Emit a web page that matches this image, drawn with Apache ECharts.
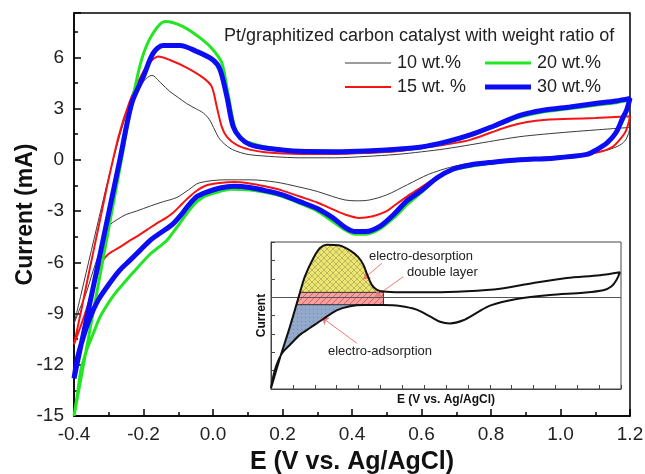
<!DOCTYPE html>
<html>
<head>
<meta charset="utf-8">
<script src="https://cdn.jsdelivr.net/npm/echarts@6/dist/echarts.min.js"></script>
<style>html,body{margin:0;padding:0;background:#fff}#c{width:645px;height:474px}</style>
</head>
<body>
<div id="c"></div>
<script>
// ---------- DATA (E in V vs. Ag/AgCl, current in mA) ----------
const xTicksMajor = [-0.4, -0.2, 0.0, 0.2, 0.4, 0.6, 0.8, 1.0, 1.2];
const yTicksMajor = [-15, -12, -9, -6, -3, 0, 3, 6];
const seriesNames = ['10 wt.%', '15 wt. %', '20 wt.%', '30 wt.%'];
const legendTitle = 'Pt/graphitized carbon catalyst with weight ratio of';

// 10 wt.%
const w10Forward = [[-0.4,-9.6],[-0.38,-7.9],[-0.35,-5.3],[-0.32,-2.7],[-0.3,-1.0],[-0.27,1.3],[-0.245,2.9],[-0.22,3.9],[-0.2,4.6],[-0.176,4.95],[-0.15,4.5],[-0.124,4.0],[-0.1,3.65],[-0.076,3.3],[-0.05,3.0],[-0.028,2.75],[-0.01,2.35],[0.005,1.75],[0.02,1.2],[0.049,0.68],[0.08,0.42],[0.106,0.3],[0.18,0.18],[0.25,0.12],[0.35,0.12],[0.44,0.2],[0.53,0.32],[0.6,0.47],[0.67,0.65],[0.74,0.88],[0.81,1.12],[0.88,1.35],[0.95,1.5],[1.03,1.64],[1.1,1.75],[1.2,1.9]];
const w10Reverse = [[1.2,1.9],[1.195,1.5],[1.185,1.1],[1.165,0.8],[1.13,0.55],[1.08,0.38],[0.98,0.2],[0.88,0.05],[0.8,-0.1],[0.74,-0.2],[0.68,-0.45],[0.62,-0.85],[0.56,-1.45],[0.5,-2.05],[0.45,-2.35],[0.414,-2.4],[0.38,-2.35],[0.345,-2.15],[0.3,-1.85],[0.25,-1.6],[0.18,-1.3],[0.106,-1.17],[0.035,-1.17],[-0.04,-1.35],[-0.07,-1.75],[-0.104,-2.2],[-0.143,-2.45],[-0.18,-2.7],[-0.22,-3.0],[-0.25,-3.2],[-0.276,-3.5],[-0.3,-3.9],[-0.325,-5.3],[-0.345,-6.5],[-0.365,-7.8],[-0.385,-8.8],[-0.4,-9.6]];
// 15 wt. %
const w15Forward = [[-0.4,-10.8],[-0.38,-8.9],[-0.36,-6.9],[-0.33,-4.0],[-0.3,-1.1],[-0.27,1.5],[-0.24,3.4],[-0.21,4.8],[-0.19,5.5],[-0.175,5.85],[-0.158,6.05],[-0.124,5.85],[-0.076,5.4],[-0.028,4.8],[-0.004,4.3],[0.011,3.1],[0.025,1.95],[0.04,1.35],[0.068,0.88],[0.106,0.6],[0.15,0.45],[0.25,0.35],[0.35,0.35],[0.44,0.4],[0.53,0.5],[0.6,0.7],[0.67,0.9],[0.74,1.17],[0.8,1.6],[0.85,1.95],[0.9,2.2],[0.96,2.35],[1.03,2.4],[1.1,2.45],[1.2,2.55]];
const w15Reverse = [[1.2,2.55],[1.195,2.1],[1.186,1.6],[1.165,1.05],[1.15,0.76],[1.12,0.5],[1.076,0.35],[0.98,0.12],[0.883,0.0],[0.8,-0.15],[0.74,-0.3],[0.69,-0.55],[0.645,-1.0],[0.6,-1.6],[0.558,-2.15],[0.52,-2.7],[0.5,-3.0],[0.46,-3.3],[0.42,-3.4],[0.38,-3.2],[0.345,-2.9],[0.3,-2.5],[0.25,-2.15],[0.2,-1.8],[0.15,-1.55],[0.106,-1.38],[0.06,-1.3],[0.02,-1.35],[-0.02,-1.5],[-0.05,-1.85],[-0.075,-2.3],[-0.095,-2.7],[-0.115,-3.1],[-0.135,-3.4],[-0.161,-3.7],[-0.19,-4.1],[-0.22,-4.5],[-0.245,-4.8],[-0.267,-5.1],[-0.3,-5.5],[-0.32,-6.0],[-0.34,-7.2],[-0.36,-8.5],[-0.38,-9.7],[-0.4,-10.8]];
// 20 wt.%
const w20Forward = [[-0.4,-15],[-0.38,-12.8],[-0.35,-9.5],[-0.3,-4.0],[-0.268,-0.5],[-0.234,3.3],[-0.205,5.9],[-0.176,7.3],[-0.138,8.1],[-0.086,7.8],[-0.028,7.0],[0.0,6.45],[0.025,5.7],[0.043,3.9],[0.063,1.9],[0.087,1.15],[0.106,1.0],[0.15,0.75],[0.25,0.5],[0.35,0.45],[0.44,0.48],[0.53,0.58],[0.6,0.72],[0.67,1.0],[0.74,1.4],[0.81,1.95],[0.883,2.5],[0.95,2.8],[1.027,3.0],[1.1,3.2],[1.16,3.35],[1.2,3.5]];
const w20Reverse = [[1.2,3.5],[1.19,2.8],[1.175,2.1],[1.15,1.3],[1.13,0.9],[1.1,0.55],[1.07,0.3],[1.0,0.12],[0.92,0.02],[0.85,-0.08],[0.75,-0.35],[0.69,-0.6],[0.64,-1.15],[0.6,-1.9],[0.56,-2.6],[0.52,-3.4],[0.48,-4.05],[0.44,-4.35],[0.41,-4.35],[0.38,-4.1],[0.34,-3.55],[0.3,-3.0],[0.25,-2.55],[0.2,-2.15],[0.15,-1.9],[0.1,-1.75],[0.05,-1.72],[0.02,-1.85],[-0.02,-2.1],[-0.046,-2.45],[-0.07,-3.0],[-0.095,-3.7],[-0.115,-4.25],[-0.132,-4.7],[-0.155,-5.1],[-0.18,-5.5],[-0.23,-6.6],[-0.26,-7.3],[-0.288,-8.0],[-0.325,-9.2],[-0.345,-10.2],[-0.363,-11.1],[-0.38,-12.3],[-0.39,-13.7],[-0.4,-15]];
// 30 wt.%
const w30Forward = [[-0.4,-12.8],[-0.37,-9.9],[-0.34,-7.0],[-0.3,-3.1],[-0.268,0.0],[-0.234,3.3],[-0.2,4.9],[-0.172,6.25],[-0.144,6.7],[-0.095,6.7],[-0.047,6.35],[0.0,5.85],[0.02,5.3],[0.04,3.7],[0.058,1.95],[0.078,1.3],[0.106,0.9],[0.15,0.7],[0.25,0.5],[0.35,0.48],[0.44,0.52],[0.53,0.62],[0.6,0.75],[0.67,1.05],[0.74,1.46],[0.81,2.0],[0.883,2.6],[0.95,2.9],[1.027,3.1],[1.1,3.3],[1.16,3.45],[1.2,3.6]];
const w30Reverse = [[1.2,3.6],[1.19,2.9],[1.18,2.5],[1.16,1.6],[1.134,1.0],[1.1,0.55],[1.076,0.32],[0.98,0.1],[0.883,0.0],[0.8,-0.15],[0.74,-0.3],[0.69,-0.55],[0.645,-1.05],[0.6,-1.8],[0.558,-2.4],[0.52,-3.2],[0.48,-3.9],[0.44,-4.2],[0.41,-4.2],[0.38,-3.95],[0.345,-3.4],[0.3,-2.85],[0.25,-2.45],[0.2,-2.05],[0.15,-1.8],[0.106,-1.62],[0.06,-1.55],[0.02,-1.65],[-0.02,-1.9],[-0.046,-2.15],[-0.07,-2.65],[-0.095,-3.3],[-0.115,-3.75],[-0.135,-4.05],[-0.16,-4.4],[-0.18,-4.7],[-0.21,-5.3],[-0.24,-5.9],[-0.27,-6.5],[-0.3,-7.3],[-0.33,-8.2],[-0.355,-9.3],[-0.375,-10.5],[-0.39,-11.6],[-0.4,-12.8]];

// Inset (schematic, arbitrary current units)
const insetForward = [[-0.4,-4.96],[-0.359,-3.31],[-0.313,-1.59],[-0.275,-0.05],[-0.245,1.13],[-0.206,2.13],[-0.176,2.67],[-0.146,2.85],[-0.092,2.82],[-0.039,2.55],[-0.001,2.18],[0.022,1.77],[0.04,1.22],[0.06,0.68],[0.083,0.41],[0.114,0.3],[0.19,0.26],[0.342,0.26],[0.494,0.32],[0.647,0.46],[0.799,0.77],[0.952,1.04],[1.104,1.19],[1.195,1.35]];
const insetReverse = [[1.195,1.35],[1.18,0.95],[1.157,0.59],[1.119,0.37],[1.028,0.24],[0.875,0.12],[0.723,-0.1],[0.601,-0.46],[0.54,-0.86],[0.479,-1.26],[0.418,-1.43],[0.373,-1.34],[0.327,-1.05],[0.266,-0.68],[0.19,-0.48],[0.114,-0.43],[0.022,-0.43],[-0.039,-0.5],[-0.1,-0.72],[-0.161,-1.19],[-0.222,-1.68],[-0.267,-2.04],[-0.313,-2.59],[-0.351,-3.08],[-0.382,-3.95],[-0.4,-4.96]];
const desorptionRegion = [[-0.267,0.26],[-0.245,1.13],[-0.206,2.13],[-0.176,2.67],[-0.146,2.85],[-0.092,2.82],[-0.039,2.55],[-0.001,2.18],[0.022,1.77],[0.04,1.22],[0.06,0.68],[0.083,0.41],[0.1,0.26]];
const doubleLayerRegion = [[-0.267,0.26],[0.114,0.26],[0.114,-0.41],[-0.284,-0.41],[-0.275,-0.05]];
const adsorptionRegion = [[-0.284,-0.41],[0.05,-0.41],[0.022,-0.43],[-0.039,-0.5],[-0.1,-0.72],[-0.161,-1.19],[-0.222,-1.68],[-0.267,-2.04],[-0.313,-2.59],[-0.351,-3.08],[-0.382,-3.95],[-0.4,-4.96],[-0.359,-3.31],[-0.313,-1.59]];
const insetArrows = [[[0.106,1.84],[0.022,0.97]], [[0.205,1.11],[0.075,0.02]], [[-0.008,-2.51],[-0.168,-1.1]]];
const insetLabels = ['electro-desorption', 'double layer', 'electro-adsorption'];

// ---------- STYLE ----------
const FONT = 'Liberation Sans, Arial, Helvetica, sans-serif';
const colors = ['#3a3a3a', '#f51414', '#22e622', '#0c0cf5'];
const widths = [1, 2, 3, 5];

function makePattern(kind) {
  const c = document.createElement('canvas');
  const s = kind === 'dots' ? 4 : 6;
  c.width = s; c.height = s;
  const g = c.getContext('2d');
  if (kind === 'cross') {
    g.fillStyle = '#ece66e'; g.fillRect(0,0,s,s);
    g.strokeStyle = '#a8a25a'; g.lineWidth = 0.7;
    g.beginPath(); g.moveTo(0,0); g.lineTo(s,s); g.moveTo(s,0); g.lineTo(0,s); g.stroke();
  } else if (kind === 'hatch') {
    g.fillStyle = '#f7a0a0'; g.fillRect(0,0,s,s);
    g.strokeStyle = '#e05a5a'; g.lineWidth = 1;
    g.beginPath(); g.moveTo(0,s); g.lineTo(s,0); g.moveTo(-1,1); g.lineTo(1,-1); g.moveTo(s-1,s+1); g.lineTo(s+1,s-1); g.stroke();
  } else {
    g.fillStyle = '#93a9cb'; g.fillRect(0,0,s,s);
    g.fillStyle = '#7088ad'; g.fillRect(1,1,1,1);
  }
  return { image: c, repeat: 'repeat' };
}

function loop(f, r) { return f.concat(r.slice(1)); }
const mainData = [loop(w10Forward, w10Reverse), loop(w15Forward, w15Reverse), loop(w20Forward, w20Reverse), loop(w30Forward, w30Reverse)];

function polySeries(points, fill, stroke) {
  return {
    type: 'custom', xAxisIndex: 2, yAxisIndex: 2, z: 1, silent: true,
    data: [[points[0][0], points[0][1]]],
    renderItem: function (params, api) {
      const pts = points.map(function (p) { return api.coord(p); });
      return { type: 'polygon', shape: { points: pts }, style: { fill: fill, stroke: stroke || null, lineWidth: 1 } };
    }
  };
}

const mainSeries = [0, 1, 2, 3].map(function (i) {
  return {
    name: seriesNames[i], type: 'line', xAxisIndex: 0, yAxisIndex: 0,
    data: mainData[i], showSymbol: false, symbol: 'none', smooth: 0.3,
    lineStyle: { color: colors[i], width: widths[i] }, itemStyle: { color: colors[i] },
    z: 2 + i
  };
});

// legend: one component per entry (line-shaped icons of each series' width)
const legendPos = [[345, 54], [345, 78], [485, 54], [485, 78]];
const legends = [0, 1, 2, 3].map(function (i) {
  return {
    data: [{ name: seriesNames[i], icon: 'rect', itemStyle: { color: colors[i] } }],
    left: legendPos[i][0], top: legendPos[i][1],
    itemWidth: 46, itemHeight: Math.max(widths[i], 1), itemGap: 0,
    textStyle: { fontFamily: FONT, fontSize: 18, color: '#222', padding: [0, 0, 0, 1] },
    selectedMode: false, padding: 0
  };
});

const tickMain = { show: true, inside: true, length: 7, lineStyle: { color: '#000', width: 1.5 } };
const tickMinor = { show: true, inside: true, length: 4, lineStyle: { color: '#000', width: 1.5 } };
const axisLine = { show: true, onZero: false, lineStyle: { color: '#000', width: 1.5 } };
const option = {
  animation: false,
  backgroundColor: '#fff',
  title: { text: legendTitle, left: 224, top: 27, padding: 0, textStyle: { fontFamily: FONT, fontSize: 18, fontWeight: 'normal', color: '#222' } },
  legend: legends,
  grid: [
    { left: 74, right: 15, top: 13, bottom: 58, containLabel: false, outerBoundsMode: 'none',
      show: true, borderColor: '#000', borderWidth: 1.5, backgroundColor: 'transparent' },
    { left: 271, top: 242, width: 350, height: 147, containLabel: false, outerBoundsMode: 'none',
      show: true, borderColor: '#444', borderWidth: 1, backgroundColor: '#fff' }
  ],
  xAxis: [
    { gridIndex: 0, type: 'value', position: 'bottom', min: xTicksMajor[0], max: xTicksMajor[xTicksMajor.length - 1], interval: 0.2,
      axisLine: axisLine, axisTick: tickMain,
      axisLabel: { margin: 9, fontFamily: FONT, fontSize: 19, color: '#222', formatter: function (v) { return v.toFixed(1); } },
      splitLine: { show: false },
      name: 'E (V vs. Ag/AgCl)', nameLocation: 'middle', nameGap: 34, nameMoveOverlap: false,
      nameTextStyle: { fontFamily: FONT, fontSize: 25, fontWeight: 'bold', color: '#111' } },
    { gridIndex: 0, type: 'value', position: 'bottom', offset: 0, min: -0.4, max: 1.2, interval: 0.1,
      axisLine: { show: false, onZero: false }, axisTick: tickMinor,
      axisLabel: { show: false }, splitLine: { show: false } },
    { gridIndex: 1, type: 'value', position: 'bottom', min: -0.4, max: 1.2, interval: 0.1,
      axisLine: { show: true, onZero: false, lineStyle: { color: '#444', width: 1 } }, axisTick: { show: true, inside: true, length: 4, lineStyle: { color: '#444' } },
      axisLabel: { show: false }, splitLine: { show: false },
      name: 'E (V vs. Ag/AgCl)', nameLocation: 'middle', nameGap: 5, nameMoveOverlap: false,
      nameTextStyle: { fontFamily: FONT, fontSize: 12, fontWeight: 'bold', color: '#111' } }
  ],
  yAxis: [
    { gridIndex: 0, type: 'value', position: 'left', min: yTicksMajor[0], max: 8.6, interval: 3,
      axisLine: axisLine, axisTick: tickMain,
      axisLabel: { margin: 10, fontFamily: FONT, fontSize: 19, color: '#222',
        formatter: function (v) { return yTicksMajor.indexOf(Math.round(v * 100) / 100) >= 0 ? String(Math.round(v)) : ''; } },
      splitLine: { show: false },
      name: 'Current (mA)', nameLocation: 'middle', nameGap: 37, nameMoveOverlap: false,
      nameTextStyle: { fontFamily: FONT, fontSize: 23, fontWeight: 'bold', color: '#111' } },
    { gridIndex: 0, type: 'value', position: 'left', offset: 0, min: -15, max: 8.6, interval: 1.5,
      axisLine: { show: false, onZero: false }, axisTick: tickMinor,
      axisLabel: { show: false }, splitLine: { show: false } },
    { gridIndex: 1, type: 'value', position: 'left', min: -5, max: 3, interval: 1,
      axisLine: { show: true, onZero: false, lineStyle: { color: '#444', width: 1 } }, axisTick: { show: true, inside: true, length: 4, lineStyle: { color: '#444' } },
      axisLabel: { show: false }, splitLine: { show: false },
      name: 'Current', nameLocation: 'middle', nameGap: 3, nameMoveOverlap: false,
      nameTextStyle: { fontFamily: FONT, fontSize: 12, fontWeight: 'bold', color: '#111' } }
  ],
  series: mainSeries.concat([
    polySeries(desorptionRegion, makePattern('cross')),
    polySeries(adsorptionRegion, makePattern('dots')),
    polySeries(doubleLayerRegion, makePattern('hatch'), '#333'),
    { type: 'line', xAxisIndex: 2, yAxisIndex: 2, data: loop(insetForward, insetReverse), showSymbol: false, symbol: 'none',
      smooth: 0.3, lineStyle: { color: '#111', width: 2 }, z: 5, silent: true,
      markLine: { silent: true, symbol: ['none', 'none'], animation: false, label: { show: false },
        lineStyle: { color: '#555', width: 1, type: 'solid' }, data: [{ yAxis: 0 }] } },
    { type: 'line', xAxisIndex: 2, yAxisIndex: 2, data: [], silent: true, z: 6,
      markLine: { silent: true, symbol: ['none', 'arrow'], symbolSize: 7, animation: false, label: { show: false },
        lineStyle: { color: '#f27878', width: 1, type: 'solid' }, itemStyle: { color: '#e82020' },
        data: insetArrows.map(function (a) { return [{ coord: a[0] }, { coord: a[1] }]; }) } }
  ]),
  graphic: [
    { type: 'text', left: 369, top: 250, z: 100, style: { text: insetLabels[0], font: '13px ' + FONT, fill: '#222' } },
    { type: 'text', left: 407, top: 266, z: 100, style: { text: insetLabels[1], font: '13px ' + FONT, fill: '#222' } },
    { type: 'text', left: 328, top: 345, z: 100, style: { text: insetLabels[2], font: '13px ' + FONT, fill: '#222' } }
  ]
};
const chart = echarts.init(document.getElementById('c'), null, { renderer: 'canvas' });
chart.setOption(option);
</script>
</body>
</html>
